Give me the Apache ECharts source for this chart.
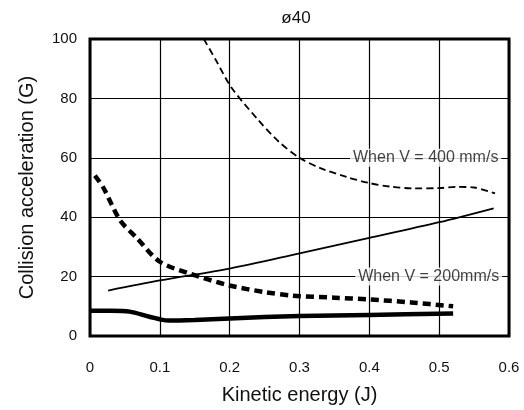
<!DOCTYPE html>
<html><head><meta charset="utf-8">
<script src="https://cdn.jsdelivr.net/npm/echarts@6/dist/echarts.min.js"></script>
<style>html,body{margin:0;padding:0;background:#fff}#c{width:524px;height:410px}</style>
</head><body><div id="c"></div>
<script>
const titleText = "ø40";
const xName = "Kinetic energy (J)";
const yName = "Collision acceleration (G)";
const xTicks = [0, 0.1, 0.2, 0.3, 0.4, 0.5, 0.6];
const yTicks = [0, 20, 40, 60, 80, 100];

// V = 400 mm/s, thin dashed
const v400Dashed = [[0.163,100],[0.18,93],[0.203,83.5],[0.24,73],[0.27,65.5],[0.30,60],[0.33,56.5],[0.368,53.5],[0.40,51.5],[0.43,50.3],[0.463,49.7],[0.50,49.8],[0.525,50.2],[0.55,50],[0.58,48]];
// V = 400 mm/s, thin solid
const v400Solid = [[0.026,15.3],[0.1,18.7],[0.2,22.7],[0.3,27.8],[0.4,33],[0.5,38.3],[0.578,43]];
// V = 200 mm/s, thick dashed
const v200Dashed = [[0.007,54],[0.019,50],[0.043,39],[0.067,33],[0.10,25],[0.143,21],[0.2,17],[0.25,14.8],[0.29,13.6],[0.35,12.9],[0.4,12.3],[0.46,11.3],[0.52,10]];
// V = 200 mm/s, thick solid
const v200Solid = [[0,8.5],[0.03,8.5],[0.057,8.2],[0.085,6.5],[0.112,5.2],[0.15,5.4],[0.2,5.9],[0.25,6.4],[0.3,6.7],[0.4,7.1],[0.52,7.6]];

const labelTexts = ["When V = 400 mm/s", "When V = 200mm/s"];
const labelPoints = [[0.4807,60],[0.485,20]];

const font = "'Liberation Sans', Arial, Helvetica, sans-serif";
const chart = echarts.init(document.getElementById('c'));
chart.setOption({
  animation: false,
  backgroundColor: '#fff',
  title: { text: titleText, left: 291, top: 5, textAlign: 'center',
    textStyle: { fontFamily: font, fontSize: 17, fontWeight: 'normal', color: '#111' } },
  grid: { left: 90, right: 15, top: 39, bottom: 69, show: true, borderColor: '#000', borderWidth: 3 },
  xAxis: {
    type: 'value', min: 0, max: 0.6, interval: 0.1,
    name: xName, nameLocation: 'middle', nameGap: 49,
    nameTextStyle: { fontFamily: font, fontSize: 20, color: '#111' },
    axisLine: { show: false }, axisTick: { show: false },
    axisLabel: { margin: 24, fontFamily: font, fontSize: 15, color: '#111',
      formatter: v => { const t = xTicks.find(k => Math.abs(k - v) < 1e-6); return t === undefined ? '' : String(t); } },
    splitLine: { show: true, lineStyle: { color: '#000', width: 1.2 } }
  },
  yAxis: {
    type: 'value', min: 0, max: 100, interval: 20,
    name: yName, nameLocation: 'middle', nameGap: 53, nameRotate: 90,
    nameTextStyle: { fontFamily: font, fontSize: 20, color: '#111' },
    axisLine: { show: false }, axisTick: { show: false },
    axisLabel: { margin: 13, fontFamily: font, fontSize: 15, color: '#111',
      formatter: v => { const t = yTicks.find(k => Math.abs(k - v) < 1e-6); return t === undefined ? '' : String(t); } },
    splitLine: { show: true, lineStyle: { color: '#000', width: 1.2 } }
  },
  series: [
    { type: 'line', data: v400Dashed, smooth: 0.3, symbol: 'none', lineStyle: { color: '#000', width: 1.8, type: [7,4] }, z: 3 },
    { type: 'line', data: v400Solid, smooth: 0.3, symbol: 'none', lineStyle: { color: '#000', width: 1.8 }, z: 3 },
    { type: 'line', data: v200Dashed, smooth: 0.3, symbol: 'none', lineStyle: { color: '#000', width: 4.5, type: [8,5] }, z: 3 },
    { type: 'line', data: v200Solid, smooth: 0.3, symbol: 'none', lineStyle: { color: '#000', width: 4.5 }, z: 3 },
    { type: 'scatter', symbolSize: 0, z: 5,
      data: labelPoints.map((p, i) => ({ value: p, name: labelTexts[i] })),
      label: { show: true, position: 'inside', formatter: p => p.name,
        fontFamily: font, fontSize: 16, color: '#111', backgroundColor: '#fff', padding: [1, 3] } }
  ]
});
</script></body></html>
